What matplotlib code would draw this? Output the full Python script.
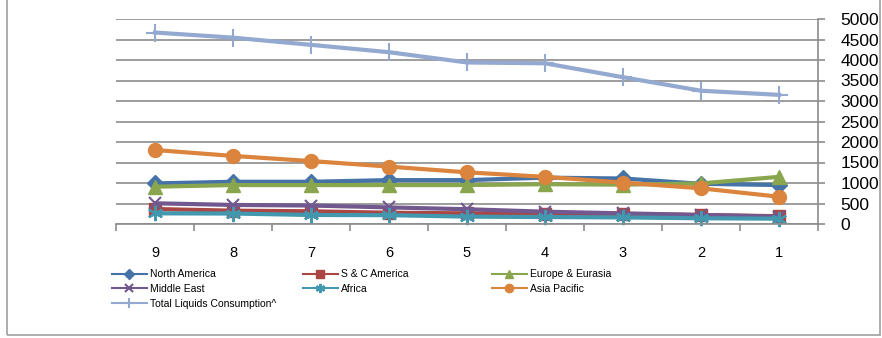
import matplotlib
matplotlib.use("Agg")
import matplotlib.pyplot as plt
from matplotlib.patches import Rectangle

plt.rcParams['font.family'] = ['Liberation Sans', 'DejaVu Sans']

# data
periods = ["9", "8", "7", "6", "5", "4", "3", "2", "1"]
north_america = [990, 1030, 1030, 1070, 1070, 1130, 1110, 980, 950]
sc_america = [365, 325, 310, 275, 260, 250, 245, 220, 190]
europe = [910, 950, 950, 950, 950, 970, 960, 990, 1150]
middle_east = [505, 465, 450, 405, 360, 300, 260, 220, 180]
africa = [260, 255, 220, 215, 180, 170, 160, 140, 130]
asia_pacific = [1805, 1660, 1535, 1400, 1260, 1150, 1010, 870, 665]
total = [4670, 4545, 4370, 4190, 3940, 3920, 3580, 3250, 3150]

series = [
    ("North America", north_america, "#4572A7", "D", 8),
    ("S & C America", sc_america, "#AA4643", "s", 9),
    ("Europe & Eurasia", europe, "#89A54E", "^", 10),
    ("Middle East", middle_east, "#71588F", "x", 9),
    ("Africa", africa, "#4198AF", (6, 2, 0), 11),
    ("Asia Pacific", asia_pacific, "#DB843D", "o", 10),
    ("Total Liquids Consumption^", total, "#93A9CF", "+", 13),
]

fig = plt.figure(figsize=(8.82, 3.38), dpi=100)
ax = fig.add_axes([116 / 882, 1 - 224 / 338, 702 / 882, 205 / 338])

x = list(range(len(periods)))
lines = []
for name, vals, col, mk, ms in series:
    l, = ax.plot(x, vals, color=col, lw=3, marker=mk, ms=ms, mew=1.5 if mk in ("x", "+", (6, 2, 0)) else 1,
                 mfc=col, mec=col, label=name, clip_on=False)
    lines.append(l)

ax.set_xlim(-0.5, len(periods) - 0.5)
ax.set_ylim(0, 5000)
ax.set_yticks(range(0, 5001, 500))
ax.yaxis.tick_right()
ax.yaxis.grid(True, color="#8c8c8c", lw=1.2)
ax.set_axisbelow(True)
ax.set_xticks(x)
ax.set_xticklabels(periods)
ax.set_xticks([i - 0.5 for i in range(len(periods) + 1)], minor=True)
ax.tick_params(axis="x", which="major", length=0, pad=16, labelsize=10.5)
ax.tick_params(axis="x", which="minor", length=5, color="#8c8c8c", width=1.2)
ax.tick_params(axis="y", length=5, color="#8c8c8c", width=1.2, labelsize=12.5, pad=11)
for s in ("top", "left"):
    ax.spines[s].set_visible(False)
ax.spines["right"].set_color("#8c8c8c")
ax.spines["bottom"].set_color("#8c8c8c")
ax.spines["right"].set_linewidth(1.2)
ax.spines["bottom"].set_linewidth(1.2)

# legend in three columns, as in the spreadsheet chart
cols = [[0, 3, 6], [1, 4], [2, 5]]
xs = [108 / 882, 299 / 882, 488 / 882]
for c, xpos in zip(cols, xs):
    leg = fig.legend([lines[i] for i in c], [series[i][0] for i in c],
                     loc="upper left", bbox_to_anchor=(xpos, 1 - 265 / 338),
                     frameon=False, markerscale=0.6, fontsize=7.5,
                     handlelength=3.3, handletextpad=0.3, labelspacing=0.45,
                     borderaxespad=0)
    for h in leg.legend_handles:
        h.set_linewidth(1.5)

fig.add_artist(Rectangle((7 / 882, 3 / 338), 873 / 882, 1.2, transform=fig.transFigure,
                         fill=False, edgecolor="#a0a0a0", lw=1.2))

fig.savefig("out.png", dpi=100)
